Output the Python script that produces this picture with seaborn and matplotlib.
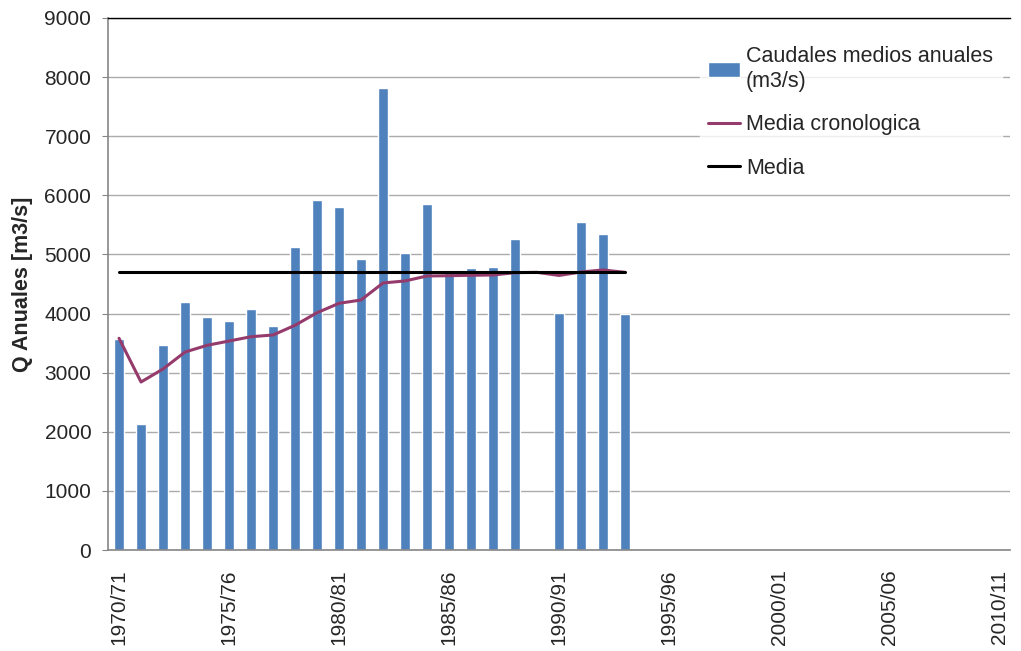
import matplotlib
matplotlib.use("Agg")
import matplotlib.pyplot as plt
import seaborn as sns
import pandas as pd
import numpy as np

# hydrological years 1970/71 .. 2010/11
years = ["%d/%02d" % (y, (y + 1) % 100) for y in range(1970, 2011)]

# annual mean flows (m3/s), 1989/90 has no data
caudales = [3570, 2135, 3470, 4195, 3945, 3875, 4080, 3790, 5127, 5922,
            5804, 4924, 7817, 5025, 5854, 4704, 4772, 4788, 5262, np.nan,
            4010, 5550, 5347, 3995]
# running (chronological) mean
media_cron = [3582, 2843, 3063, 3350, 3463, 3536, 3609, 3638, 3802, 4015,
              4174, 4230, 4518, 4552, 4636, 4641, 4648, 4653, 4692, 4698,
              4645, 4704, 4738, 4698]
media = [4700] * 24

tick_labels = ["1970/71", "1975/76", "1980/81", "1985/86", "1990/91",
               "1995/96", "2000/01", "2005/06", "2010/11"]

sns.set_style("white")
plt.rcParams['font.family'] = ['Liberation Sans', 'DejaVu Sans']

df = pd.DataFrame({"year": years[:len(caudales)], "q": caudales})

fig, ax = plt.subplots(figsize=(10.21, 6.51), dpi=100)
fig.subplots_adjust(left=0.1058, right=0.9893, bottom=0.155, top=0.9724)

sns.barplot(data=df, x="year", y="q", order=years, color="#4F81BD",
            saturation=1, width=0.42, ax=ax, label="Caudales medios anuales\n(m3/s)")

pos = np.arange(len(media_cron))
ax.plot(pos, media_cron, color="#953B6C", lw=2.2, label="Media cronologica")
ax.plot(pos, media, color="black", lw=2.2, label="Media")

ax.set_xlim(-0.5, len(years) - 0.5)
ax.set_ylim(0, 9000)
ax.set_yticks(range(0, 9001, 1000))
ax.yaxis.grid(True, color="#ABABAB", lw=1)
ax.set_axisbelow(True)

ax.set_xticks([years.index(t) for t in tick_labels])
ax.set_xticklabels(tick_labels, rotation=90, fontsize=15)
ax.tick_params(axis="x", length=0, pad=14)
ax.tick_params(axis="y", labelsize=15, length=4, color="#868686", left=True, pad=8)

ax.set_xlabel("")
ax.set_ylabel("Q Anuales [m3/s]", fontsize=15.5, fontweight="bold", labelpad=8)

for s in ["left", "bottom"]:
    ax.spines[s].set_color("#868686")
    ax.spines[s].set_linewidth(1.2)
ax.spines["top"].set_color("black")
ax.spines["top"].set_linewidth(1)
ax.spines["right"].set_visible(False)

handles, labels = ax.get_legend_handles_labels()
order = [labels.index(l) for l in ["Caudales medios anuales\n(m3/s)", "Media cronologica", "Media"]]
leg = ax.legend([handles[i] for i in order], [labels[i] for i in order],
                loc="upper left", bbox_to_anchor=(0.644, 0.983), frameon=True,
                fontsize=15.5, handlelength=1.45, handletextpad=0.3,
                labelspacing=1.05, borderpad=0.4, fancybox=False)
leg.get_frame().set_facecolor("white")
leg.get_frame().set_edgecolor("white")

fig.savefig("out.png", dpi=100)
